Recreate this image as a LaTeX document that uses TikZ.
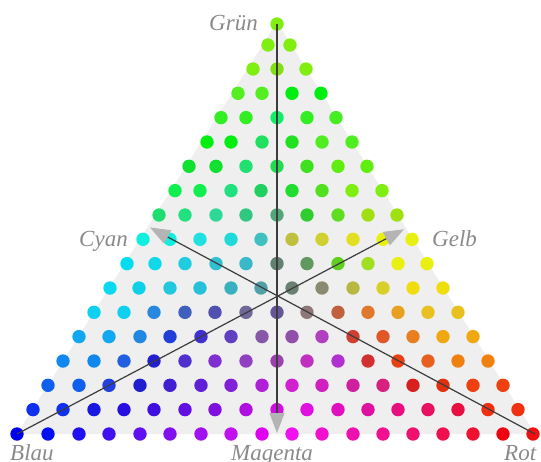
\documentclass[tikz,border=0pt]{standalone}
\usepackage{fontspec}
\setmainfont{Liberation Serif}
\usetikzlibrary{arrows.meta}
\definecolor{bggray}{HTML}{EFEFEF}
\definecolor{linegray}{HTML}{3C3C3C}
\definecolor{tipgray}{HTML}{B4B4B4}
\definecolor{labelgray}{HTML}{8A8A8A}
\newcommand\dotrow[2]{\foreach \px/\pc in {#2}{\definecolor{dotc}{HTML}{\pc}\fill[dotc] (\px,#1) circle[radius=6.7pt];}}
\begin{document}
\begin{tikzpicture}[x=1pt,y=-1pt,
  axisline/.style={draw=linegray, line width=1.2pt, -{Triangle[length=20pt,width=15pt,color=tipgray]}},
  lbl/.style={text=labelgray, font=\fontsize{23}{23}\selectfont\itshape, inner sep=0pt, anchor=base west}]
\useasboundingbox (0,0) rectangle (541,461);
\coordinate (G) at (277,24);
\coordinate (B) at (17,434);
\coordinate (R) at (535,434);
\coordinate (M) at (277,433);
\coordinate (Y) at (404,229.3);
\coordinate (C) at (150,227.5);
\fill[bggray] (277,22) -- (17,434) -- (535,434) -- cycle;
\dotrow{24}{277/80EE10}
\dotrow{45}{268/80EE10, 290/80EE10}
\dotrow{69}{253/80EE10, 277/80E010, 306/80EE10}
\dotrow{93.3}{238/55EE20, 262/55EE20, 292/00EE10, 321/00EE10}
\dotrow{117.6}{221/33EE22, 246/33EE22, 277/11EE66, 307/33EE22, 336/44EE22}
\dotrow{142}{207/00EE10, 231/00EE10, 262/20E060, 292/20E020, 322/50EE20, 352/50EE20}
\dotrow{166.3}{189/10E030, 216/10E030, 246/20E070, 277/20DD50, 307/40E020, 338/60EE10, 367/60EE10}
\dotrow{190.6}{175/10EE50, 200/10EE50, 231/20E080, 261/20D060, 292/20DD30, 322/50E020, 352/80EE10, 382/80EE10}
\dotrow{215}{159/20DD70, 185/20E080, 216/30D898, 246/30C880, 277/50A878, 307/30CC30, 338/60DD20, 368/A0E010, 397/A0E010}
\dotrow{239.3}{143/10EEE0, 170/10EEE0, 200/20E0E0, 231/20DADA, 261/40C0C0, 292/C0C040, 322/D0D030, 353/E0E020, 383/E8F010, 412/E8F010}
\dotrow{263.6}{127/00DCF0, 155/10D8E8, 185/20CCE0, 216/30C0D0, 246/38B8C8, 277/608070, 307/609860, 338/60D020, 368/A0E020, 398/E8F010, 427/E8F010}
\dotrow{288}{110/08D8F0, 139/10D0E8, 170/20C8E0, 200/28C0D8, 231/38B0C0, 261/50A0A8, 292/688070, 322/8A8A70, 353/B8B840, 383/D8D028, 413/F0DD10, 443/F0DD10}
\dotrow{312.3}{94/10D0F0, 124/10D0F0, 154/2888E0, 185/4060C0, 215/5050B0, 246/706898, 277/665599, 307/907878, 338/C06040, 368/E07830, 398/E8A020, 428/E8C020, 458/E8C020}
\dotrow{336.6}{79/10A8F0, 109/10A8F0, 140/2088E0, 170/2040D8, 201/4030D0, 231/6040C0, 262/8858A8, 292/9050A8, 322/B040C0, 353/D04030, 383/E05828, 413/E88020, 443/F0A810, 473/F0A810}
\dotrow{361}{63/1088F0, 94/1088F0, 124/2060E0, 154/2020D0, 185/5030D0, 215/8030D0, 246/9040C0, 277/A040B0, 307/C030C0, 338/B030D0, 368/D03030, 398/E84010, 428/E86020, 458/F08010, 488/F08010}
\dotrow{385.3}{48/1060F0, 79/1060F0, 109/2040E0, 140/2020D0, 170/4020D0, 201/6020D8, 231/8020D8, 262/B020D8, 292/D020D0, 322/D020C0, 353/D020A0, 383/D82080, 413/D82020, 443/E03010, 473/F04010, 503/F04010}
\dotrow{409.6}{33/1030F0, 63/1030F0, 94/1818E0, 124/2810E0, 154/4010E0, 185/6010E0, 215/8010E0, 246/B010E0, 277/D010E0, 307/E010E0, 338/E010C0, 368/E010A0, 398/E81080, 428/E81060, 458/E81040, 488/F03010, 518/F03010}
\dotrow{434}{17/0000EE, 48/0010F0, 79/2010F0, 109/4010F0, 140/6010F0, 170/8010F0, 201/A010F0, 231/C010F0, 262/E000F0, 292/F010F0, 322/F010D0, 353/F010B0, 383/F01090, 413/F01070, 443/F01050, 473/F01030, 503/F00010, 533/F01010}
\draw[axisline] (G) -- (M);
\draw[axisline] (B) -- (Y);
\draw[axisline] (R) -- (C);
\node[lbl] (lg) at (209,30.5) {Grün};
\node[lbl] (lc) at (79,246) {Cyan};
\node[lbl] (ly) at (432,246) {Gelb};
\node[lbl] (lb) at (10,460.5) {Blau};
\node[lbl] (lm) at (231,460.5) {Magenta};
\node[lbl] (lr) at (504,460.5) {Rot};
\end{tikzpicture}
\end{document}
